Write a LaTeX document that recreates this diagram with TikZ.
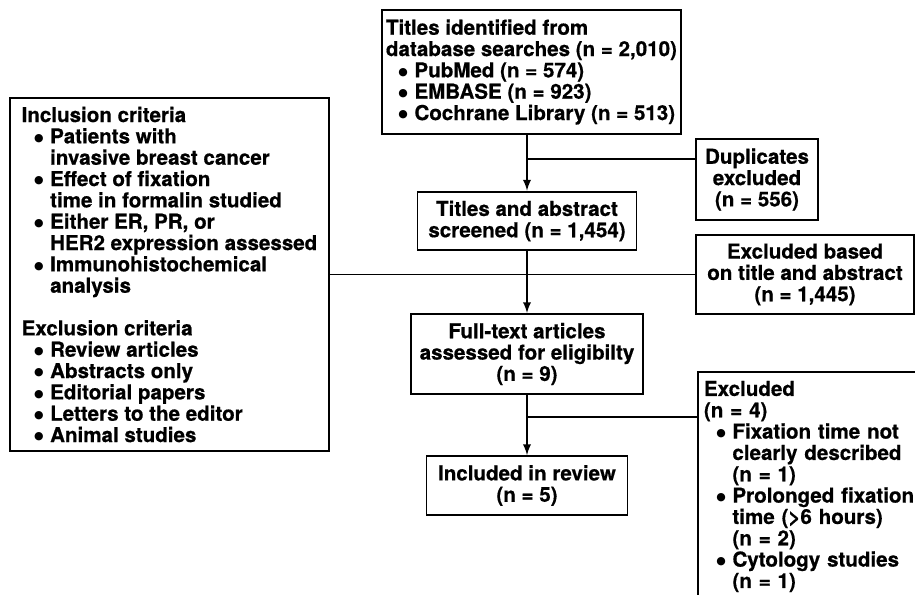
\documentclass[tikz,border=0pt]{standalone}
\usepackage{fontspec}
\setmainfont{TeX Gyre Heros}[BoldFeatures={FakeBold=0.6}]
\newfontfamily\dotfont{DejaVu Sans}
\newcommand{\bitem}{\hspace*{0.25cm}\makebox[0.32cm][l]{\raisebox{1.3pt}{\dotfont\fontsize{6.2}{7}\selectfont ●}}}
\newcommand{\bcont}{\hspace*{0.57cm}}
\begin{document}
\begin{tikzpicture}[>=latex,line width=1.1pt]
\tikzset{
  box/.style={draw,inner xsep=0.12cm,inner ysep=0.18cm,font=\fontsize{11.7}{12.14}\selectfont\bfseries},
  cbox/.style={box,align=center},
  lbox/.style={box,align=left}
}
\useasboundingbox (0,0) rectangle (18.3,-11.9);
\node[lbox,anchor=west,minimum width=5.92cm,minimum height=2.4cm,inner xsep=0.08cm] (search) at (7.62,-1.44) {Titles identified from\\database searches (n = 2,010)\\\bitem PubMed (n = 574)\\\bitem EMBASE (n = 923)\\\bitem Cochrane Library (n = 513)};
\node[lbox,anchor=west,minimum width=6.38cm,minimum height=7.06cm] (criteria) at (0.18,-5.49) {Inclusion criteria\\\bitem Patients with\\\bcont invasive breast cancer\\\bitem Effect of fixation\\\bcont time in formalin studied\\\bitem Either ER, PR, or\\\bcont HER2 expression assessed\\\bitem Immunohistochemical\\\bcont analysis\\[0.4267cm]Exclusion criteria\\\bitem Review articles\\\bitem Abstracts only\\\bitem Editorial papers\\\bitem Letters to the editor\\\bitem Animal studies};
\node[cbox,minimum width=2.44cm,minimum height=1.54cm] (dupl) at (15.14,-3.59) {Duplicates\\excluded\\(n = 556)};
\node[cbox,minimum width=4.38cm,minimum height=1.12cm] (screen) at (10.54,-4.42) {Titles and abstract\\screened (n = 1,454)};
\node[cbox,minimum width=4.36cm,minimum height=1.5cm] (exclta) at (16.1,-5.49) {Excluded based\\on title and abstract\\(n = 1,445)};
\node[cbox,minimum width=4.64cm,minimum height=1.56cm] (fulltext) at (10.54,-7.08) {Full-text articles\\assessed for eligibilty\\(n = 9)};
\node[cbox,minimum width=4.02cm,minimum height=1.14cm] (included) at (10.54,-9.71) {Included in review\\(n = 5)};
\node[lbox,anchor=north west,text width=4.46cm] (excl) at (13.94,-7.42) {Excluded\\(n = 4)\\\bitem Fixation time not\\\bcont clearly described\\\bcont (n = 1)\\\bitem Prolonged fixation\\\bcont time (>6 hours)\\\bcont (n = 2)\\\bitem Cytology studies\\\bcont (n = 1)};
\coordinate (b1) at (10.54,-3.18);
\coordinate (b2) at (10.54,-8.34);
\draw[->] (search.south -| screen.north) -- (screen.north);
\draw[->] (screen.south) -- (fulltext.north);
\draw[->] (fulltext.south) -- (included.north);
\draw (b1) -- (b1 -| dupl.west);
\draw (criteria.east) -- (exclta.west);
\draw (b2) -- (b2 -| excl.west);
\end{tikzpicture}
\end{document}
